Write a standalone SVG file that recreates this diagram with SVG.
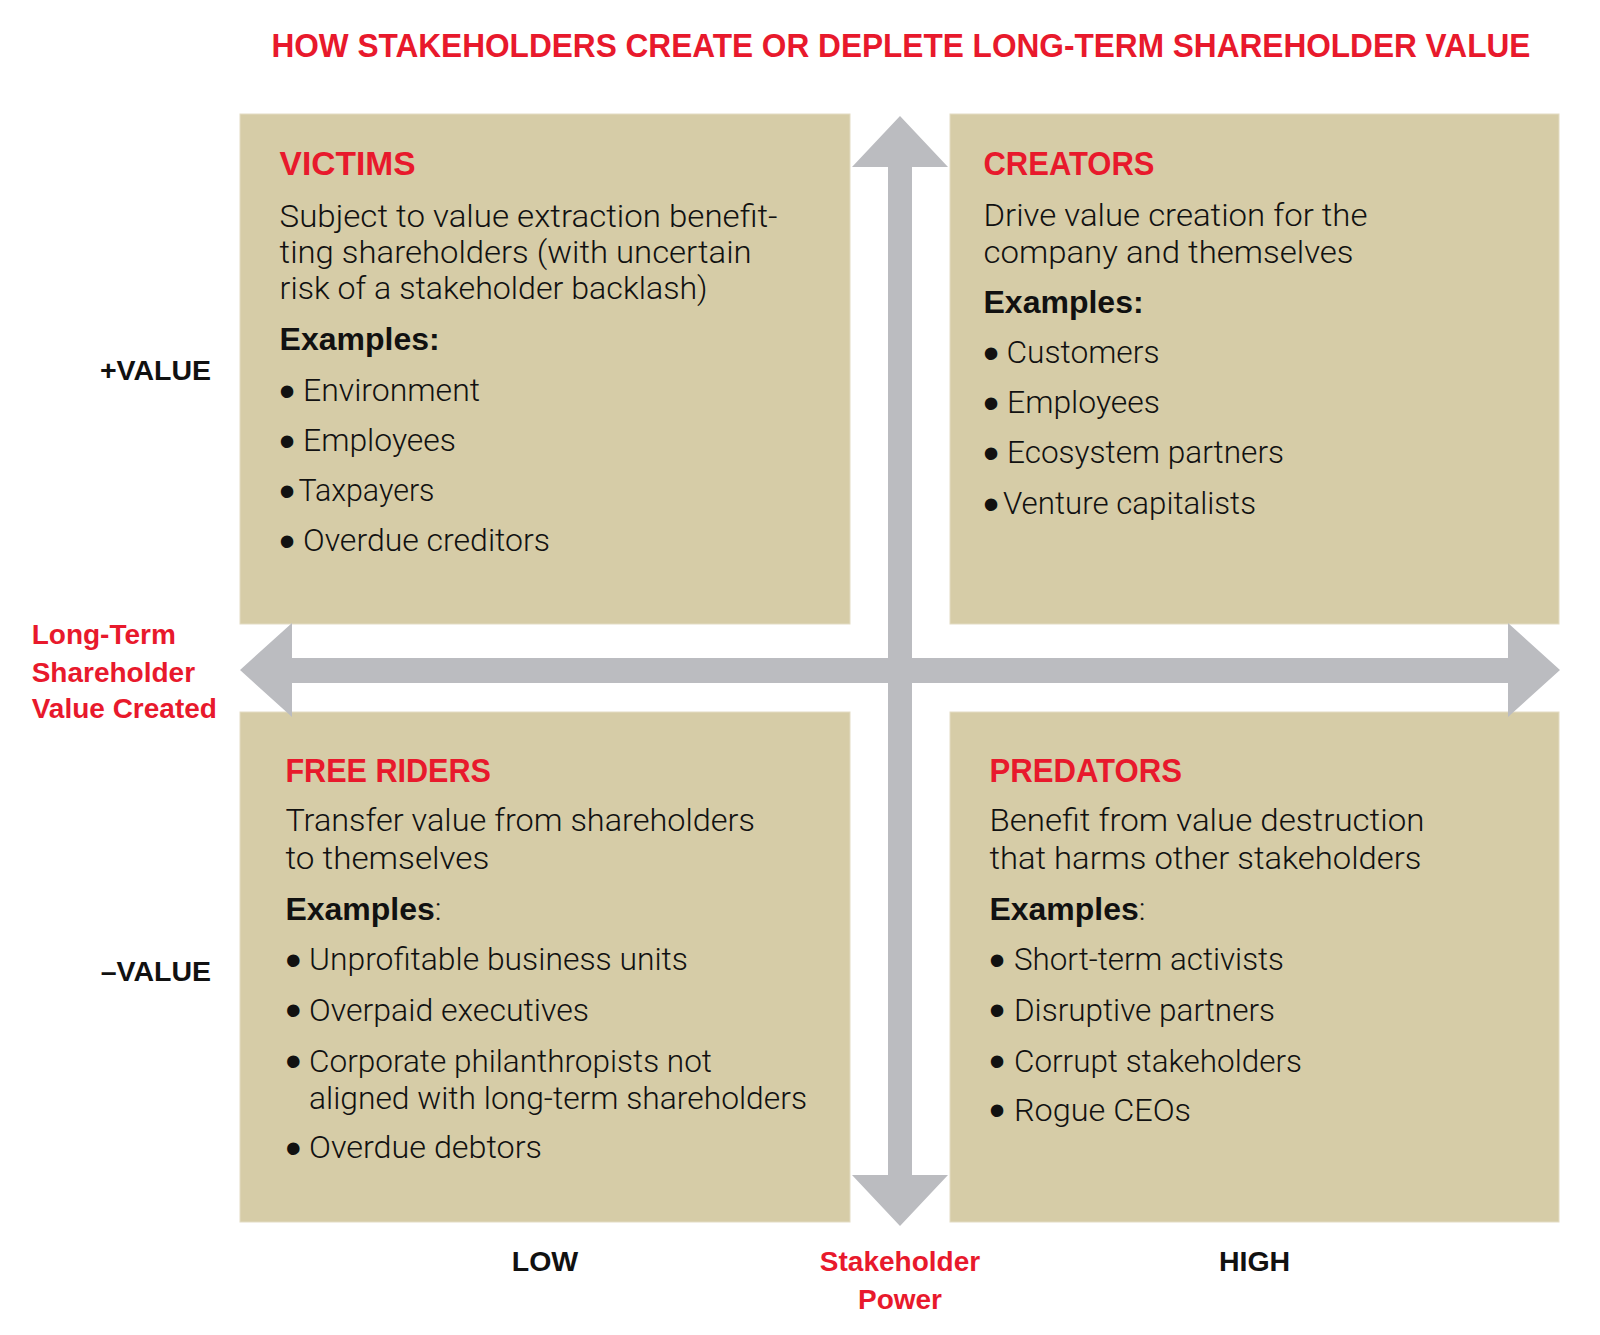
<svg xmlns="http://www.w3.org/2000/svg" width="1600" height="1335" viewBox="0 0 1600 1335">
<style>
.box{fill:#D6CCA7;stroke:#E3DCC3;stroke-width:1}
.arrow{fill:#BBBCC0}
.title{font-family:"Liberation Sans",Arial,sans-serif;font-weight:700;font-size:33px;fill:#E8192C}
.head{font-family:"Liberation Sans",Arial,sans-serif;font-weight:700;font-size:33px;fill:#E8192C}
.body{font-family:Roboto,"Liberation Sans",sans-serif;font-weight:300;font-size:32px;fill:#111}
.ex{font-family:"Liberation Sans",Arial,sans-serif;font-weight:700;font-size:32px;fill:#111}
.exc{font-family:Roboto,"Liberation Sans",sans-serif;font-weight:300}
.bul{font-family:"Liberation Sans",Arial,sans-serif;font-size:46px;fill:#111;text-anchor:middle}
.axis{font-family:"Liberation Sans",Arial,sans-serif;font-weight:700;font-size:28.5px;fill:#111}
.axisr{font-family:"Liberation Sans",Arial,sans-serif;font-weight:700;font-size:28px;fill:#E8192C}
</style>
<rect width="1600" height="1335" fill="#fff"/>
<text class="title" x="271.4" y="56.5" textLength="1259" lengthAdjust="spacingAndGlyphs">HOW STAKEHOLDERS CREATE OR DEPLETE LONG-TERM SHAREHOLDER VALUE</text>

<g id="victims">
<rect class="box" x="240" y="114" width="610" height="510"/>
<text class="head" x="279.6" y="175" textLength="136" lengthAdjust="spacingAndGlyphs">VICTIMS</text>
<text class="body" x="279.6" y="226.7" textLength="498" lengthAdjust="spacingAndGlyphs">Subject to value extraction benefit-</text>
<text class="body" x="279.6" y="262.5" textLength="472" lengthAdjust="spacingAndGlyphs">ting shareholders (with uncertain</text>
<text class="body" x="279.6" y="298.5" textLength="428" lengthAdjust="spacingAndGlyphs">risk of a stakeholder backlash)</text>
<text class="ex" x="279.6" y="350">Examples:</text>
<text class="bul" x="287" y="406.6">•</text>
<text class="body" x="303" y="401" textLength="177" lengthAdjust="spacingAndGlyphs">Environment</text>
<text class="bul" x="287" y="456.6">•</text>
<text class="body" x="303" y="451" textLength="153" lengthAdjust="spacingAndGlyphs">Employees</text>
<text class="bul" x="287" y="506.6">•</text>
<text class="body" x="298.5" y="501" textLength="136" lengthAdjust="spacingAndGlyphs">Taxpayers</text>
<text class="bul" x="287" y="556.6">•</text>
<text class="body" x="303" y="551" textLength="247" lengthAdjust="spacingAndGlyphs">Overdue creditors</text>
</g>

<g id="creators">
<rect class="box" x="950" y="114" width="609" height="510"/>
<text class="head" x="983.5" y="175" textLength="171" lengthAdjust="spacingAndGlyphs">CREATORS</text>
<text class="body" x="983.5" y="225.5" textLength="384" lengthAdjust="spacingAndGlyphs">Drive value creation for the</text>
<text class="body" x="983.5" y="262.5" textLength="370" lengthAdjust="spacingAndGlyphs">company and themselves</text>
<text class="ex" x="983.5" y="312.7">Examples:</text>
<text class="bul" x="991" y="368.6">•</text>
<text class="body" x="1006.5" y="363" textLength="153" lengthAdjust="spacingAndGlyphs">Customers</text>
<text class="bul" x="991" y="418.6">•</text>
<text class="body" x="1007" y="413" textLength="153" lengthAdjust="spacingAndGlyphs">Employees</text>
<text class="bul" x="991" y="468.6">•</text>
<text class="body" x="1007" y="463" textLength="277" lengthAdjust="spacingAndGlyphs">Ecosystem partners</text>
<text class="bul" x="991" y="519.6">•</text>
<text class="body" x="1003" y="514" textLength="253" lengthAdjust="spacingAndGlyphs">Venture capitalists</text>
</g>

<g id="free-riders">
<rect class="box" x="240" y="712" width="610" height="510"/>
<text class="head" x="285.4" y="781.7" textLength="205.6" lengthAdjust="spacingAndGlyphs">FREE RIDERS</text>
<text class="body" x="285.4" y="831" textLength="469.6" lengthAdjust="spacingAndGlyphs">Transfer value from shareholders</text>
<text class="body" x="285.4" y="869" textLength="204" lengthAdjust="spacingAndGlyphs">to themselves</text>
<text class="ex" x="285.4" y="920">Examples<tspan class="exc">:</tspan></text>
<text class="bul" x="293.3" y="975.6">•</text>
<text class="body" x="309" y="970" textLength="379" lengthAdjust="spacingAndGlyphs">Unprofitable business units</text>
<text class="bul" x="293.3" y="1026.3">•</text>
<text class="body" x="309" y="1020.7" textLength="280" lengthAdjust="spacingAndGlyphs">Overpaid executives</text>
<text class="bul" x="293.3" y="1077.3">•</text>
<text class="body" x="309" y="1071.7" textLength="403" lengthAdjust="spacingAndGlyphs">Corporate philanthropists not</text>
<text class="body" x="309" y="1109" textLength="498" lengthAdjust="spacingAndGlyphs">aligned with long-term shareholders</text>
<text class="bul" x="293.3" y="1163.6">•</text>
<text class="body" x="309" y="1158" textLength="233" lengthAdjust="spacingAndGlyphs">Overdue debtors</text>
</g>

<g id="predators">
<rect class="box" x="950" y="712" width="609" height="510"/>
<text class="head" x="989.4" y="781.7" textLength="192.6" lengthAdjust="spacingAndGlyphs">PREDATORS</text>
<text class="body" x="989.4" y="831" textLength="435" lengthAdjust="spacingAndGlyphs">Benefit from value destruction</text>
<text class="body" x="989.4" y="869.3" textLength="432" lengthAdjust="spacingAndGlyphs">that harms other stakeholders</text>
<text class="ex" x="989.4" y="920">Examples<tspan class="exc">:</tspan></text>
<text class="bul" x="997" y="975.6">•</text>
<text class="body" x="1014" y="970" textLength="270" lengthAdjust="spacingAndGlyphs">Short-term activists</text>
<text class="bul" x="997" y="1026.3">•</text>
<text class="body" x="1014" y="1020.7" textLength="261" lengthAdjust="spacingAndGlyphs">Disruptive partners</text>
<text class="bul" x="997" y="1077.3">•</text>
<text class="body" x="1014" y="1071.7" textLength="288" lengthAdjust="spacingAndGlyphs">Corrupt stakeholders</text>
<text class="bul" x="997" y="1126.3">•</text>
<text class="body" x="1014" y="1120.7" textLength="177" lengthAdjust="spacingAndGlyphs">Rogue CEOs</text>
</g>

<g id="connectors">
<polygon class="arrow" points="900,116 948,167 912,167 912,1175 948,1175 900,1226 852,1175 888,1175 888,167 852,167"/>
<polygon class="arrow" points="240,670 292,623 292,658 1508,658 1508,623 1560,670 1508,717 1508,683 292,683 292,717"/>
</g>

<g id="labels">
<text class="axis" x="211" y="379.5" text-anchor="end">+VALUE</text>
<text class="axis" x="211" y="981" text-anchor="end">–VALUE</text>
<text class="axisr" x="31.7" y="643.5">Long-Term</text>
<text class="axisr" x="31.7" y="681.5">Shareholder</text>
<text class="axisr" x="31.7" y="718.3">Value Created</text>
<text class="axis" x="545" y="1271" text-anchor="middle">LOW</text>
<text class="axis" x="1254.5" y="1271" text-anchor="middle">HIGH</text>
<text class="axisr" x="900" y="1271" text-anchor="middle">Stakeholder</text>
<text class="axisr" x="900" y="1309" text-anchor="middle">Power</text>
</g>
</svg>
